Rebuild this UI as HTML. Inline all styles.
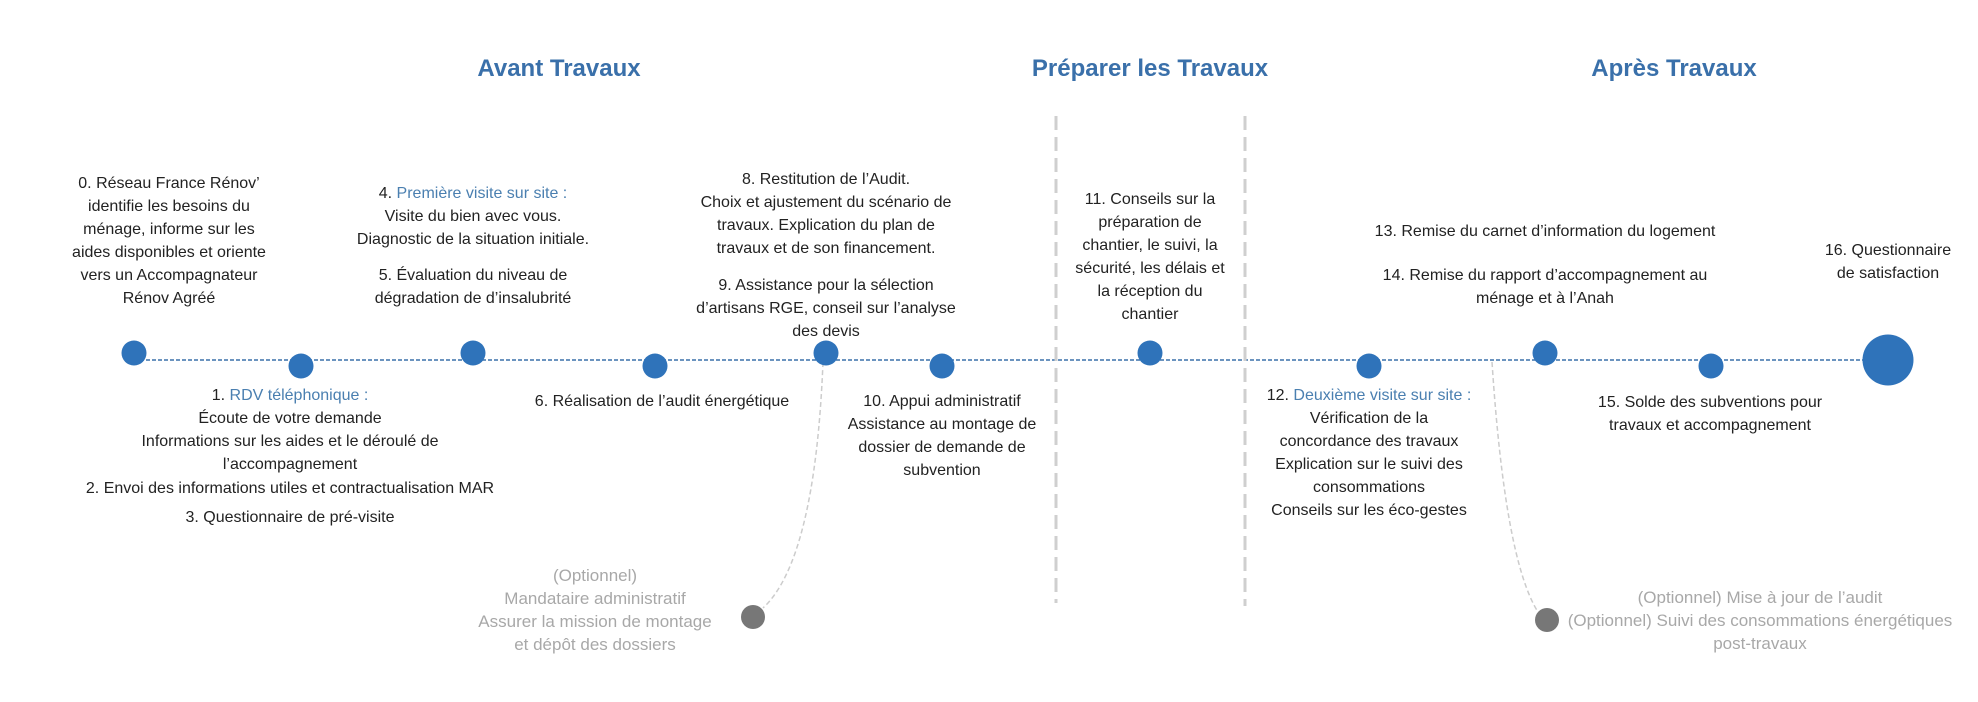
<!DOCTYPE html>
<html><head><meta charset="utf-8"><style>
body{margin:0;width:1978px;height:702px;background:#fff;position:relative;overflow:hidden;font-family:"Liberation Sans",sans-serif;}
.t{position:absolute;transform:translateX(-50%);text-align:center;white-space:nowrap;font-size:16px;line-height:23px;color:#222;}
.h{position:absolute;transform:translate(-50%,-50%);font-size:24px;font-weight:bold;color:#3a70aa;white-space:nowrap;}
.b{color:#4a7fb0;}
.g{color:#a8a8a8;font-size:17px;}
svg{position:absolute;left:0;top:0;}
</style></head><body>
<svg width="1978" height="702">
<line x1="134" y1="360" x2="1888" y2="360" stroke="#3a70aa" stroke-width="1.5" stroke-dasharray="4,2"/>
<line x1="1056" y1="116" x2="1056" y2="603" stroke="#cfcfcf" stroke-width="3" stroke-dasharray="14,7"/>
<line x1="1245" y1="116" x2="1245" y2="606" stroke="#cfcfcf" stroke-width="3" stroke-dasharray="14,7"/>
<path d="M823 362 Q815 560 763 608" fill="none" stroke="#cccccc" stroke-width="1.5" stroke-dasharray="5,3"/>
<path d="M1492 362 Q1505 560 1538 612" fill="none" stroke="#cccccc" stroke-width="1.5" stroke-dasharray="5,3"/>
<g fill="#2f73ba">
<circle cx="134" cy="353" r="12.5"/><circle cx="301" cy="366" r="12.5"/>
<circle cx="473" cy="353" r="12.5"/><circle cx="655" cy="366" r="12.5"/>
<circle cx="826" cy="353" r="12.5"/><circle cx="942" cy="366" r="12.5"/>
<circle cx="1150" cy="353" r="12.5"/><circle cx="1369" cy="366" r="12.5"/>
<circle cx="1545" cy="353" r="12.5"/><circle cx="1711" cy="366" r="12.5"/>
<circle cx="1888" cy="360" r="25.5"/>
</g>
<circle cx="753" cy="617" r="12" fill="#777"/>
<circle cx="1547" cy="620" r="12" fill="#777"/>
</svg>
<div class="h" style="left:559px;top:69px">Avant Travaux</div>
<div class="h" style="left:1150px;top:69px">Préparer les Travaux</div>
<div class="h" style="left:1674px;top:69px">Après Travaux</div>

<div class="t" style="left:169px;top:172px">0. Réseau France Rénov’<br>identifie les besoins du<br>ménage, informe sur les<br>aides disponibles et oriente<br>vers un Accompagnateur<br>Rénov Agréé</div>
<div class="t" style="left:473px;top:182px">4. <span class="b">Première visite sur site :</span><br>Visite du bien avec vous.<br>Diagnostic de la situation initiale.</div>
<div class="t" style="left:473px;top:264px">5. Évaluation du niveau de<br>dégradation de d’insalubrité</div>
<div class="t" style="left:826px;top:168px">8. Restitution de l’Audit.<br>Choix et ajustement du scénario de<br>travaux. Explication du plan de<br>travaux et de son financement.</div>
<div class="t" style="left:826px;top:274px">9. Assistance pour la sélection<br>d’artisans RGE, conseil sur l’analyse<br>des devis</div>
<div class="t" style="left:290px;top:384px">1. <span class="b">RDV téléphonique :</span><br>Écoute de votre demande<br>Informations sur les aides et le déroulé de<br>l’accompagnement</div>
<div class="t" style="left:290px;top:477px">2. Envoi des informations utiles et contractualisation MAR</div>
<div class="t" style="left:290px;top:506px">3. Questionnaire de pré-visite</div>
<div class="t" style="left:662px;top:390px">6. Réalisation de l’audit énergétique</div>
<div class="t" style="left:942px;top:390px">10. Appui administratif<br>Assistance au montage de<br>dossier de demande de<br>subvention</div>
<div class="t" style="left:1150px;top:188px">11. Conseils sur la<br>préparation de<br>chantier, le suivi, la<br>sécurité, les délais et<br>la réception du<br>chantier</div>
<div class="t" style="left:1369px;top:384px">12. <span class="b">Deuxième visite sur site :</span><br>Vérification de la<br>concordance des travaux<br>Explication sur le suivi des<br>consommations<br>Conseils sur les éco-gestes</div>
<div class="t" style="left:1545px;top:220px">13. Remise du carnet d’information du logement</div>
<div class="t" style="left:1545px;top:264px">14. Remise du rapport d’accompagnement au<br>ménage et à l’Anah</div>
<div class="t" style="left:1710px;top:391px">15. Solde des subventions pour<br>travaux et accompagnement</div>
<div class="t" style="left:1888px;top:239px">16. Questionnaire<br>de satisfaction</div>
<div class="t g" style="left:595px;top:564px">(Optionnel)<br>Mandataire administratif<br>Assurer la mission de montage<br>et dépôt des dossiers</div>
<div class="t g" style="left:1760px;top:586px">(Optionnel) Mise à jour de l’audit<br>(Optionnel) Suivi des consommations énergétiques<br>post-travaux</div>
</body></html>
